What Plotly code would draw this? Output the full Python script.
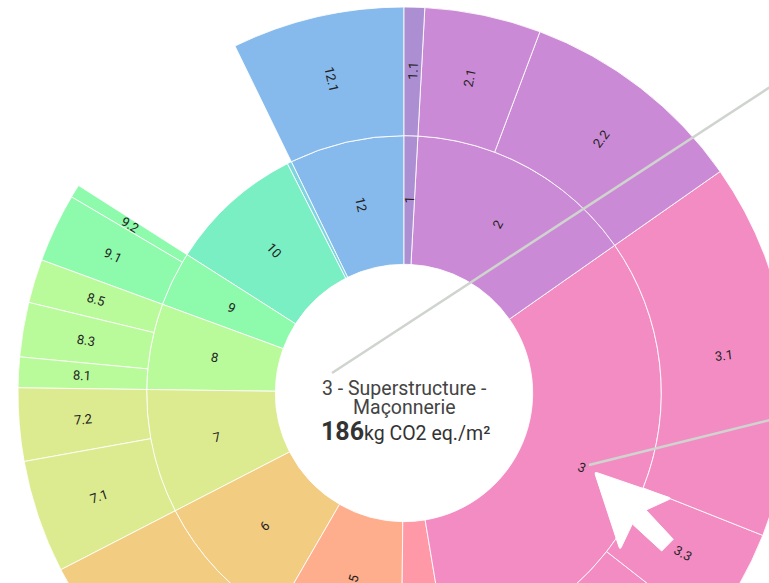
import math
import plotly.graph_objects as go

# values in kg CO2 eq./m2 (3 = 186 kg)
lots = ["12", "11", "10", "9", "8", "7", "6", "5", "4", "3", "2", "1"]
lot_values = [41.8, 1.6, 49.1, 19.9, 31.2, 45.1, 52.6, 47.5, 16.1, 186.0, 83.5, 4.98]
lot_colors = ["#87BAEC", "#7FD5DF", "#7AEFC3", "#8EFBAC", "#B9FA9A", "#DCEB90",
              "#F2CC80", "#FFAE8D", "#FF99A8", "#F28CC3", "#CB8AD5", "#AC8FD2"]
sub_labels = ["12.1", "9.2", "9.1", "8.5", "8.3", "8.1", "7.2", "7.1", "6.1",
              "3.5", "3.4", "3.3", "3.1", "2.2", "2.1", "1.1"]
sub_parents = ["12", "9", "9", "8", "8", "8", "7", "7", "6",
               "3", "3", "3", "3", "2", "2", "1"]
sub_values = [41.8, 3.2, 16.7, 10.6, 13.2, 7.4, 17.7, 27.4, 52.6,
              33.4, 35.0, 26.4, 91.2, 55.3, 28.2, 4.98]
hidden_text = {"11", "4", "6.1"}

centre_line1 = "3 - Superstructure -"
centre_line2 = "Maçonnerie"
centre_value = "186"
centre_unit = "kg CO2 eq./m²"

W, H = 808, 786
R = 386
cx, cy = 404, 393
R_MID_INNER = 193
R_MID_OUTER = 322


def px(x):
    return x / W


def py(y):
    return 1 - y / H


color_of = dict(zip(lots, lot_colors))
ids = ["root"] + lots + sub_labels
parents = [""] + ["root"] * len(lots) + sub_parents
values = [sum(lot_values)] + lot_values + sub_values
colors = ["#FFFFFF"] + lot_colors + [color_of[p] for p in sub_parents]

fig = go.Figure(go.Sunburst(
    ids=ids,
    labels=ids,
    parents=parents,
    values=values,
    textinfo="none",
    branchvalues="total",
    sort=False,
    rotation=90,
    leaf=dict(opacity=1),
    marker=dict(colors=colors, line=dict(color="rgba(255,255,255,0.85)", width=1)),
    hoverinfo="skip",
    domain=dict(x=[(cx - R) / W, (cx + R) / W], y=[1 - (cy + R) / H, 1 - (cy - R) / H]),
))

# sector labels, placed from the data: mid-angle of each sector, mid-radius of its ring
total = sum(lot_values)


def label_annotation(name, mid_deg, radius):
    a = math.radians(mid_deg)
    x = cx + radius * math.sin(a)
    y = cy - radius * math.cos(a)
    rot = mid_deg - 90 if mid_deg < 180 else mid_deg - 270
    return dict(xref="paper", yref="paper", x=px(x), y=py(y), text=name, showarrow=False,
                textangle=rot, xanchor="center", yanchor="middle",
                font=dict(family="Roboto", size=13, color="#222222"))


label_annotations = []
# lots are listed counter-clockwise from the top, so clockwise angles run from 360 down
end = 360.0
for lot, v in zip(lots, lot_values):
    span = v / total * 360
    start = end - span
    if lot not in hidden_text:
        label_annotations.append(label_annotation(lot, (start + end) / 2, R_MID_INNER))
    child_end = end
    for lab, par, val in zip(sub_labels, sub_parents, sub_values):
        if par == lot:
            cs = val / total * 360
            if lab not in hidden_text:
                label_annotations.append(label_annotation(lab, child_end - cs / 2, R_MID_OUTER))
            child_end -= cs
    end = start

# cursor: (x, y, corner radius)
arrow = [(594.3, 471.7, 3), (671.7, 498.3, 3), (646, 510, 0), (673.3, 539.3, 0),
         (661.7, 551, 0), (632.3, 524, 0), (620, 550, 3)]


def corner_path(points):
    n = len(points)
    parts = []
    for i, (x, y, r) in enumerate(points):
        if r == 0:
            parts.append(("L", x, y))
            continue
        px0, py0, _ = points[i - 1]
        nx0, ny0, _ = points[(i + 1) % n]
        d0 = math.hypot(px0 - x, py0 - y)
        d1 = math.hypot(nx0 - x, ny0 - y)
        a = (x + (px0 - x) * r / d0, y + (py0 - y) * r / d0)
        b = (x + (nx0 - x) * r / d1, y + (ny0 - y) * r / d1)
        parts.append(("C", a, (x, y), b))
    out = []
    for i, p in enumerate(parts):
        if p[0] == "L":
            out.append(f"{'M' if i == 0 else 'L'} {px(p[1])} {py(p[2])}")
        else:
            a, c, b = p[1], p[2], p[3]
            out.append(f"{'M' if i == 0 else 'L'} {px(a[0])} {py(a[1])}")
            out.append(f"Q {px(c[0])} {py(c[1])} {px(b[0])} {py(b[1])}")
    return " ".join(out) + " Z"


fig.update_layout(
    width=W, height=H,
    margin=dict(l=0, r=0, t=0, b=0),
    paper_bgcolor="white",
    shapes=[
        dict(type="line", xref="paper", yref="paper", x0=px(332), y0=py(373), x1=px(790), y1=py(74),
             line=dict(color="#CFD4CF", width=2.5)),
        dict(type="line", xref="paper", yref="paper", x0=px(589), y0=py(465), x1=px(790), y1=py(415),
             line=dict(color="#CFD4CF", width=2.5)),
        dict(type="path", xref="paper", yref="paper", path=corner_path(arrow),
             fillcolor="white", line=dict(color="white", width=1)),
    ],
    annotations=label_annotations + [
        dict(xref="paper", yref="paper", x=px(404.5), y=py(388), text=centre_line1, showarrow=False,
             font=dict(family="Roboto", size=19.5, color="#444444"), yanchor="middle"),
        dict(xref="paper", yref="paper", x=px(404), y=py(407), text=centre_line2, showarrow=False,
             font=dict(family="Roboto", size=19.5, color="#444444"), yanchor="middle"),
        dict(xref="paper", yref="paper", x=px(405), y=py(431),
             text=f"<b style='font-size:25px'>{centre_value}</b>{centre_unit}", showarrow=False,
             font=dict(family="Roboto", size=19.5, color="#333333"), yanchor="middle"),
    ],
)

fig.write_html("out.html", config=dict(displayModeBar=False),
               post_script="document.body.style.margin='0';document.documentElement.style.overflow='hidden';document.body.style.overflow='hidden';")
